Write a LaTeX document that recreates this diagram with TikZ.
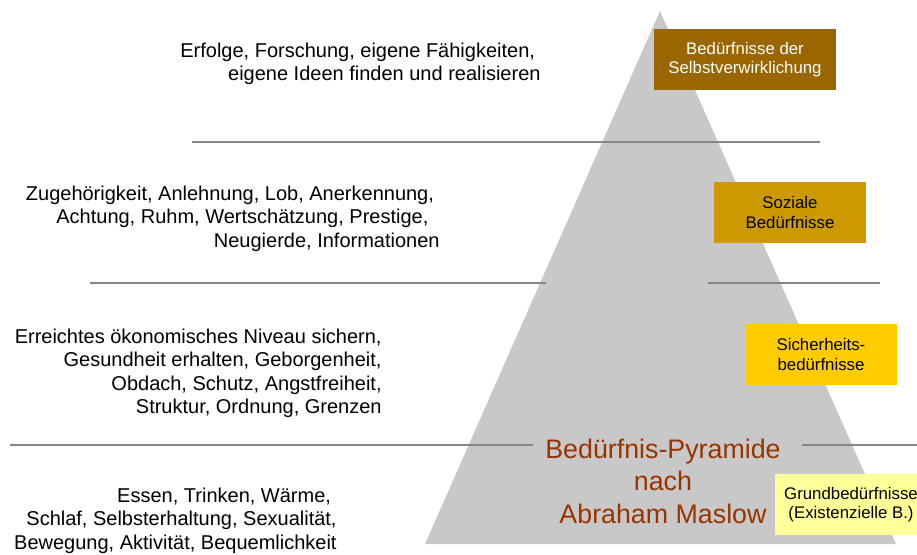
\documentclass[tikz,border=0pt]{standalone}
\usepackage{fontspec}
\setmainfont{Liberation Sans}
\definecolor{selbstCol}{HTML}{996600}
\definecolor{sozialCol}{HTML}{CC9900}
\definecolor{sicherCol}{HTML}{FFCC00}
\definecolor{grundCol}{HTML}{FFFF99}
\definecolor{titelCol}{HTML}{993300}
\definecolor{pyrCol}{HTML}{C8C8C8}
\definecolor{lineCol}{HTML}{858585}

\begin{document}
\begin{tikzpicture}[x=0.5pt,y=-0.5pt,
                    boxND/.style={rectangle,
                                  inner sep=0pt,
                                  minimum width=76pt,
                                  minimum height=30.5pt,
                                  align=center,
                                  font=\fontsize{8.4}{9.7}\selectfont},
                    txtND/.style={anchor=base east,
                                  inner sep=0pt,
                                  font=\fontsize{10}{11.75}\selectfont},
                    sepLN/.style={draw=lineCol,
                                  line width=0.65pt}]
        \clip (0,0) rectangle (917,554);
        % pyramid
        \fill[pyrCol] (660,11) -- (425,544) -- (896,544) -- cycle;
        % separators
        \draw[sepLN] (192,142) -- (820,142);
        \draw[sepLN] (90,283)  -- (546,283);
        \draw[sepLN] (708,283) -- (880,283);
        \draw[sepLN] (10,445)  -- (533,445);
        \draw[sepLN] (802,445) -- (917,445);
        % levels
        \node[boxND, fill=selbstCol, text=white, minimum width=91pt](selbst) at (745,59.5)
            {Bedürfnisse der\\Selbstverwirklichung};
        \node[boxND, fill=sozialCol](sozial) at (790,212.5) {Soziale\\Bedürfnisse};
        \node[boxND, fill=sicherCol](sicher) at (821,354.5) {Sicherheits-\\bedürfnisse};
        \node[boxND, fill=grundCol](grund)   at (851,504.5) {Grundbedürfnisse\\(Existenzielle B.)};
        % examples
        \node[txtND](selbstTXT) at (541,57) {\begin{tabular}[t]{@{}r@{}}
            Erfolge, Forschung, eigene Fähigkeiten,\hspace*{.28em}\\
            eigene Ideen finden und realisieren\end{tabular}};
        \node[txtND](sozialTXT) at (440,200) {\begin{tabular}[t]{@{}r@{}}
            Zugehörigkeit, Anlehnung, Lob, Anerkennung,\hspace*{.28em}\\
            Achtung, Ruhm, Wertschätzung, Prestige,\hspace*{.56em}\\
            Neugierde, Informationen\end{tabular}};
        \node[txtND](sicherTXT) at (382,343) {\begin{tabular}[t]{@{}r@{}}
            Erreichtes ökonomisches Niveau sichern,\\
            Gesundheit erhalten, Geborgenheit,\\
            Obdach, Schutz, Angstfreiheit,\\
            Struktur, Ordnung, Grenzen\end{tabular}};
        \node[txtND](grundTXT) at (337,502) {\begin{tabular}[t]{@{}r@{}}
            Essen, Trinken, Wärme,\hspace*{.28em}\\
            Schlaf, Selbsterhaltung, Sexualität,\\
            Bewegung, Aktivität, Bequemlichkeit\end{tabular}};
        % title
        \node[anchor=base, inner sep=0pt, text=titelCol,
              font=\fontsize{13.4}{16.25}\selectfont](titel) at (663,458)
            {\begin{tabular}[t]{@{}c@{}}Bedürfnis-Pyramide\\nach\\Abraham Maslow\end{tabular}};
    \end{tikzpicture}
\end{document}
